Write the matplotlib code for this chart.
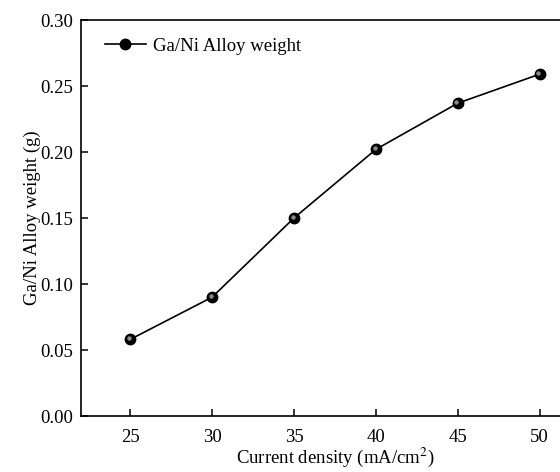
import matplotlib.pyplot as plt
import matplotlib.transforms as mtransforms
import numpy as np

plt.rcParams['font.family'] = ['Liberation Serif', 'DejaVu Serif']
plt.rcParams['mathtext.fontset'] = 'stix'

# data
current = [25, 30, 35, 40, 45, 50]
weight = [0.058, 0.090, 0.150, 0.202, 0.237, 0.259]
xticks = [25, 30, 35, 40, 45, 50]
yticks = [0.00, 0.05, 0.10, 0.15, 0.20, 0.25, 0.30]

fig = plt.figure(figsize=(5.6, 4.72), dpi=100)
ax = fig.add_axes([0.1446, 0.1186, 0.907, 0.839])

ax.plot(current, weight, '-', color='black', lw=1.2, marker='o', ms=7.5,
        mfc='black', mec='black', label='Ga/Ni Alloy weight')
# little highlight so the markers look like balls
off = mtransforms.ScaledTranslation(-1.0/72, 1.0/72, fig.dpi_scale_trans)
ax.plot(current, weight, ls='none', marker='o', ms=3.2, mfc='#9a9a9a', mec='none',
        alpha=0.9, transform=ax.transData + off)

ax.set_xlim(22, 53)
ax.set_ylim(0, 0.30)
ax.set_xticks(xticks)
ax.set_yticks(yticks)
ax.set_yticklabels(['%.2f' % v for v in yticks])
ax.tick_params(direction='in', length=5, width=1.1, labelsize=13.5)
ax.tick_params(axis='x', pad=9)
ax.tick_params(axis='y', pad=6)
for s in ax.spines.values():
    s.set_linewidth(1.2)

ax.set_xlabel('Current density (mA/cm$^2$)', fontsize=13.5, labelpad=0)
ax.set_ylabel('Ga/Ni Alloy weight (g)', fontsize=13.5, labelpad=-1)

leg = ax.legend(loc='upper left', frameon=False, fontsize=13.5,
                handlelength=2.2, handletextpad=0.4, borderaxespad=0,
                bbox_to_anchor=(0.032, 0.974))

fig.savefig('out.png', dpi=100)
